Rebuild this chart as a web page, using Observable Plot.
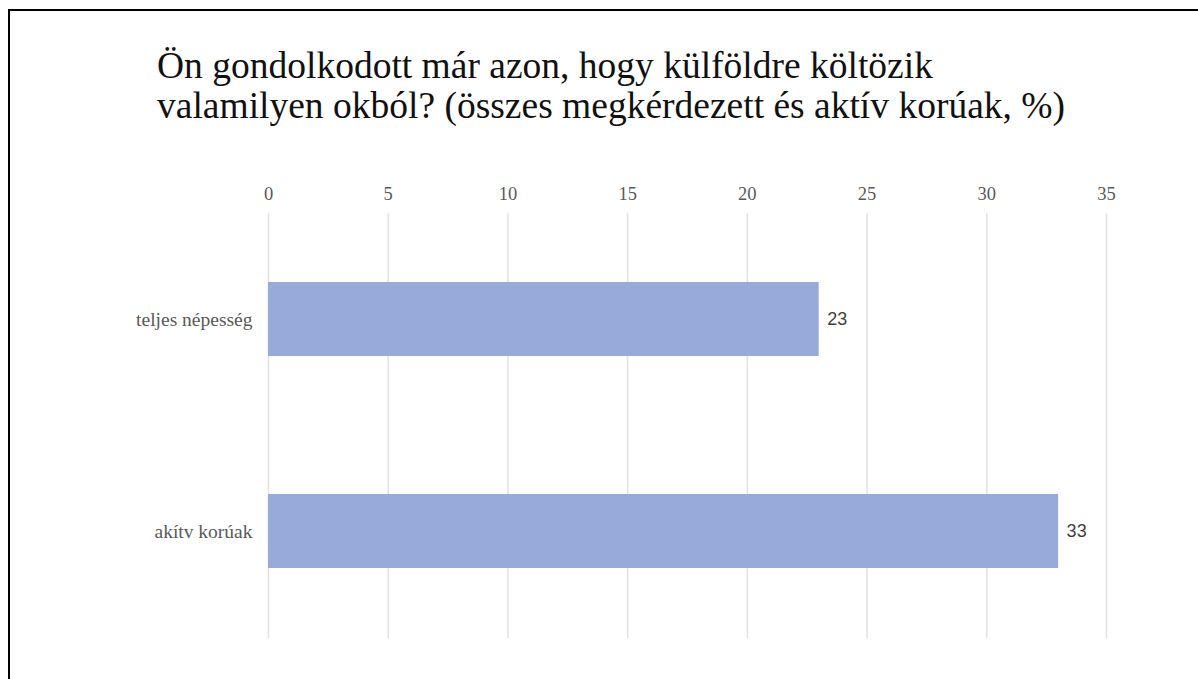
<!DOCTYPE html>
<html>
<head>
<meta charset="utf-8">
<script src="https://cdn.jsdelivr.net/npm/d3@7"></script>
<script src="https://cdn.jsdelivr.net/npm/@observablehq/plot@0.6"></script>
<style>
  html, body { margin: 0; padding: 0; background: white; }
  body { width: 1198px; height: 679px; position: relative; overflow: hidden; }
  #frame { position: absolute; left: 8px; top: 9px; width: 1300px; height: 800px; z-index: 5;
           border-left: 2px solid #000; border-top: 2px solid #000; pointer-events: none; }
  #title { position: absolute; left: 157px; top: 46px; font-family: "Liberation Serif", serif;
           font-size: 37.5px; line-height: 40px; color: #111; white-space: nowrap; }
  #chart { position: absolute; left: 0; top: 140px; }
  #chart svg g[aria-label="y-axis tick label"] text { font-size: 19.5px; }
</style>
</head>
<body>
<div id="frame"></div>
<div id="title">Ön gondolkodott már azon, hogy külföldre költözik<br>valamilyen okból? (összes megkérdezett és aktív korúak, %)</div>
<div id="chart"></div>
<script>
const categories = ["teljes népesség", "akítv korúak"];
const values = [23, 33];
const xTicks = [0, 5, 10, 15, 20, 25, 30, 35];

const data = categories.map((c, i) => ({category: c, value: values[i]}));

const chart = Plot.plot({
  width: 1198,
  height: 539,
  marginLeft: 268,
  marginRight: 92,
  marginTop: 73,
  marginBottom: 41,
  style: {fontFamily: "Liberation Serif", fontSize: "18.5px", color: "#595959", background: "transparent"},
  x: {domain: [0, 35], axis: "top", ticks: xTicks, tickSize: 0, tickPadding: 14, label: null},
  y: {domain: categories, paddingInner: 0.65, paddingOuter: 0.325, label: null, tickSize: 0, tickPadding: 16},
  marks: [
    Plot.ruleX(xTicks, {stroke: "#e2e2e2", strokeWidth: 1.5}),
    Plot.barX(data, {x: "value", y: "category", fill: "#97aad9"}),
    Plot.text(data, {x: "value", y: "category", text: d => String(d.value), dx: 8, textAnchor: "start",
      fontFamily: "Liberation Sans", fontSize: 18, fill: "#404040"})
  ]
});
document.getElementById("chart").appendChild(chart);
</script>
</body>
</html>
